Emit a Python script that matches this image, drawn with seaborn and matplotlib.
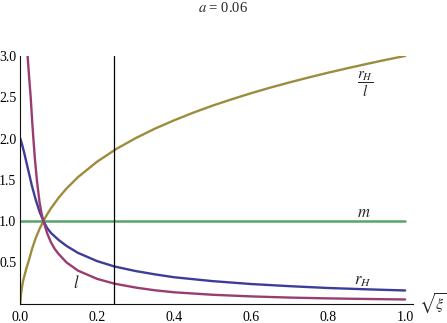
import numpy as np
import pandas as pd
import matplotlib
matplotlib.use("Agg")
import matplotlib.pyplot as plt
import seaborn as sns
from matplotlib.ticker import MultipleLocator

# values
x_ratio = [0.0, 0.002, 0.005, 0.008, 0.012, 0.016, 0.02, 0.025, 0.03, 0.04, 0.05, 0.06,
           0.07, 0.08, 0.1, 0.12, 0.15, 0.2, 0.25, 0.3, 0.35, 0.4, 0.45, 0.5, 0.55,
           0.6, 0.65, 0.7, 0.75, 0.8, 0.85, 0.9, 0.95, 1.0]
rH_over_l = [0.0, 0.12, 0.22, 0.29, 0.36, 0.43, 0.49, 0.57, 0.655, 0.794, 0.905, 1.0,
             1.083, 1.157, 1.285, 1.394, 1.533, 1.721, 1.875, 2.005, 2.12, 2.221, 2.314,
             2.399, 2.476, 2.549, 2.617, 2.68, 2.74, 2.797, 2.851, 2.903, 2.953, 3.0]

x_rH = [0.0, 0.005, 0.01, 0.015, 0.02, 0.025, 0.03, 0.04, 0.05, 0.06, 0.07, 0.08,
        0.1, 0.12, 0.15, 0.2, 0.245, 0.3, 0.35, 0.4, 0.5, 0.6, 0.7, 0.8, 0.9, 1.0]
rH = [2.0, 1.92, 1.83, 1.73, 1.63, 1.53, 1.43, 1.26, 1.115, 1.0, 0.915, 0.855,
      0.77, 0.70, 0.615, 0.515, 0.45, 0.395, 0.355, 0.32, 0.273, 0.238, 0.212, 0.19,
      0.174, 0.16]

x_l = [0.016, 0.019, 0.023, 0.027, 0.031, 0.034, 0.038, 0.043, 0.05, 0.055, 0.06,
       0.07, 0.08, 0.09, 0.1, 0.12, 0.15, 0.2, 0.245, 0.3, 0.35, 0.4, 0.5, 0.6, 0.7,
       0.8, 0.9, 1.0]
l_vals = [3.25, 3.0, 2.74, 2.5, 2.2, 2.0, 1.75, 1.5, 1.23, 1.1, 1.0,
          0.85, 0.74, 0.66, 0.6, 0.5, 0.4, 0.3, 0.242, 0.195, 0.162, 0.138, 0.108,
          0.088, 0.074, 0.064, 0.057, 0.051]

x_m = [0.0, 1.0]
m_vals = [1.0, 1.0]

x_cut = 0.244
a_value = 0.06

sns.set_style("white")
plt.rcParams['font.family'] = ['Liberation Serif', 'DejaVu Serif']
plt.rcParams['mathtext.fontset'] = 'stix'

fig = plt.figure(figsize=(4.47, 3.23), dpi=100)
ax = fig.add_axes([0.0454, 0.0598, 0.879, 0.767])

col_ratio = '#9b8d3d'
col_rH = '#3d3d99'
col_l = '#993d71'
col_m = '#5aa36a'

sns.lineplot(x=x_m, y=m_vals, color=col_m, lw=1.8, ax=ax)
sns.lineplot(x=x_ratio, y=rH_over_l, color=col_ratio, lw=1.7, ax=ax)
sns.lineplot(x=x_rH, y=rH, color=col_rH, lw=1.7, ax=ax)
sns.lineplot(x=x_l, y=l_vals, color=col_l, lw=1.7, ax=ax)
ax.axvline(x_cut, color='black', lw=0.9)

ax.set_xlim(0, 1.021)
ax.set_ylim(0, 3.0)
sns.despine(ax=ax)
for s in ['left', 'bottom']:
    ax.spines[s].set_color('#111111')
    ax.spines[s].set_linewidth(0.8)

ax.xaxis.set_minor_locator(MultipleLocator(0.05))
ax.yaxis.set_minor_locator(MultipleLocator(0.1))
ax.set_xticks([0.0, 0.2, 0.4, 0.6, 0.8, 1.0])
ax.set_xticklabels(['0.0', '0.2', '0.4', '0.6', '0.8', '1.0'])
ax.set_yticks([0.5, 1.0, 1.5, 2.0, 2.5, 3.0])
ax.set_yticklabels(['0.5', '1.0', '1.5', '2.0', '2.5', '3.0'])
ax.tick_params(which='both', direction='in', color='#111111', width=0.7)
ax.tick_params(which='major', length=3.2, labelsize=10, labelcolor='black')
ax.tick_params(which='minor', length=1.8)
ax.tick_params(axis='x', which='major', pad=5)
ax.tick_params(axis='y', which='major', pad=3)

ax.text(1.035, 0.0, r'$\sqrt{\xi}$', fontsize=11.5, ha='left', va='center', clip_on=False)
ax.text(0.895, 2.66, r'$\dfrac{r_H}{l}$', fontsize=11, ha='center', va='center')
ax.text(0.893, 1.1, r'$m$', fontsize=12, ha='center', va='center')
ax.text(0.89, 0.28, r'$r_H$', fontsize=12, ha='center', va='center')
ax.text(0.146, 0.25, r'$l$', fontsize=12, ha='center', va='center')

fig.text(0.5, 0.975, r'$a$ = ' + f'{a_value:.2f}', fontsize=10.5, ha='center', va='center')

fig.savefig('out.png', dpi=100)
